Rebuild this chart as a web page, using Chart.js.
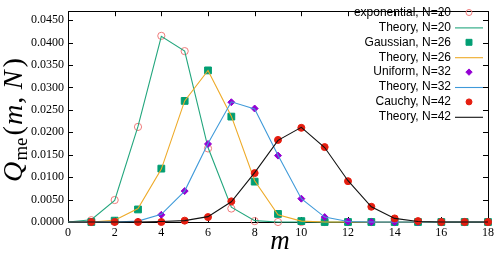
<!DOCTYPE html>
<html>
<head>
<meta charset="utf-8">
<script src="https://cdn.jsdelivr.net/npm/chart.js@4.4.1/dist/chart.umd.min.js"></script>
<style>
html, body { margin: 0; padding: 0; background: #fff; }
</style>
</head>
<body>
<canvas id="myChart" width="498" height="254"></canvas>
<script>
// m values for the simulated points and for the theory curves
var mPoints = [1, 2, 3, 4, 5, 6, 7, 8, 9, 10, 11, 12, 13, 14, 15, 16, 17, 18];
var mTheory = [0, 1, 2, 3, 4, 5, 6, 7, 8, 9, 10, 11, 12, 13, 14, 15, 16, 17, 18];

var expPoints   = [0.0004, 0.0049, 0.0212, 0.0415, 0.0381, 0.0164, 0.0030, 0.0002, 0, 0, 0, 0, 0, 0, 0, 0, 0, 0];
var expTheory   = [0, 0.0005, 0.0048, 0.0213, 0.0414, 0.0381, 0.0166, 0.0033, 0.0003, 0, 0, 0, 0, 0, 0, 0, 0, 0, 0];
var gaussPoints = [0, 0.0003, 0.0028, 0.0119, 0.0270, 0.0338, 0.0235, 0.0090, 0.0018, 0.0002, 0, 0, 0, 0, 0, 0, 0, 0];
var gaussTheory = [0, 0, 0.0004, 0.0030, 0.0118, 0.0270, 0.0338, 0.0236, 0.0092, 0.0016, 0.0002, 0, 0, 0, 0, 0, 0, 0, 0];
var unifPoints  = [0, 0, 0.0001, 0.0016, 0.0069, 0.0174, 0.0267, 0.0253, 0.0148, 0.0052, 0.0011, 0.0001, 0, 0, 0, 0, 0, 0];
var unifTheory  = [0, 0, 0, 0.0002, 0.0017, 0.0069, 0.0175, 0.0268, 0.0252, 0.0149, 0.0052, 0.0011, 0.0001, 0, 0, 0, 0, 0, 0];
var cauchyPoints = [0, 0, 0, 0, 0.0003, 0.0011, 0.0046, 0.0109, 0.0183, 0.0210, 0.0167, 0.0091, 0.0034, 0.0008, 0.0002, 0, 0, 0];
var cauchyTheory = [0, 0, 0, 0, 0.0001, 0.0003, 0.0012, 0.0045, 0.0110, 0.0182, 0.0211, 0.0166, 0.0092, 0.0034, 0.0008, 0.0001, 0, 0, 0];

var yTickStep = 0.005;
var xTickStep = 2;

function pts(xs, ys) {
    return xs.map(function (x, i) { return { x: x, y: ys[i] }; });
}

function markerSet(label, data, style, color, fill, radius, keyRadius, order) {
    return {
        label: label, data: data, showLine: false,
        pointStyle: style, pointRadius: radius, pointHoverRadius: radius,
        borderColor: color, backgroundColor: fill, pointBorderWidth: 1,
        borderWidth: 1, clip: false, order: order, keyRadius: keyRadius
    };
}

function lineSet(label, data, color, order) {
    return {
        label: label, data: data, showLine: true,
        borderColor: color, backgroundColor: color, borderWidth: 1.1,
        pointRadius: 0, tension: 0, clip: false, order: order
    };
}

var serif = '"Liberation Serif", "DejaVu Serif", serif';

// frame with inward ticks on all four sides
var framePlugin = {
    id: 'frame',
    beforeDatasetsDraw: function (chart) {
        var ctx = chart.ctx, a = chart.chartArea;
        var xs = chart.scales.x, ys = chart.scales.y;
        ctx.save();
        ctx.strokeStyle = '#000';
        ctx.lineWidth = 1;
        ctx.beginPath();
        ctx.rect(Math.round(a.left) + 0.5, Math.round(a.top) + 0.5,
            Math.round(a.right - a.left), Math.round(a.bottom - a.top));
        xs.ticks.forEach(function (t) {
            var px = Math.round(xs.getPixelForValue(t.value)) + 0.5;
            ctx.moveTo(px, a.bottom); ctx.lineTo(px, a.bottom - 5);
            ctx.moveTo(px, a.top); ctx.lineTo(px, a.top + 5);
        });
        ys.ticks.forEach(function (t) {
            var py = Math.round(ys.getPixelForValue(t.value)) + 0.5;
            ctx.moveTo(a.left, py); ctx.lineTo(a.left + 5, py);
            ctx.moveTo(a.right, py); ctx.lineTo(a.right - 5, py);
        });
        ctx.stroke();
        ctx.restore();
    }
};

// legend inside the plot, text right-aligned with the sample to its right
var legendPlugin = {
    id: 'innerLegend',
    afterDatasetsDraw: function (chart) {
        var ctx = chart.ctx;
        ctx.save();
        ctx.font = '12px "Liberation Sans", Arial, sans-serif';
        ctx.textAlign = 'right';
        ctx.textBaseline = 'middle';
        chart.data.datasets.forEach(function (ds, i) {
            var y = 12.5 + i * 14.9;
            ctx.fillStyle = '#000';
            ctx.fillText(ds.label, 451, y);
            if (ds.showLine) {
                ctx.strokeStyle = ds.borderColor;
                ctx.lineWidth = ds.borderWidth;
                ctx.beginPath();
                ctx.moveTo(455, y + 0.5); ctx.lineTo(483, y + 0.5);
                ctx.stroke();
            } else {
                ctx.strokeStyle = ds.borderColor;
                ctx.fillStyle = ds.backgroundColor;
                ctx.lineWidth = 1;
                Chart.helpers.drawPoint(ctx, {
                    pointStyle: ds.pointStyle, radius: ds.keyRadius,
                    rotation: 0, borderWidth: 1
                }, 469, y);
            }
        });
        ctx.restore();
    }
};

// axis titles: Q_me(m, N) and m
var titlePlugin = {
    id: 'axisTitles',
    afterDraw: function (chart) {
        var ctx = chart.ctx;
        ctx.save();
        ctx.fillStyle = '#000';
        ctx.textBaseline = 'alphabetic';
        ctx.textAlign = 'left';
        var big = 27, small = 18;
        var parts = [
            { t: 'Q', f: 'italic ' + big + 'px ' + serif, dy: 0, g: 1 },
            { t: 'me', f: small + 'px ' + serif, dy: 5, g: 2 },
            { t: '(', f: big + 'px ' + serif, dy: 0, g: 1 },
            { t: 'm', f: 'italic ' + big + 'px ' + serif, dy: 0, g: 1 },
            { t: ',', f: big + 'px ' + serif, dy: 0, g: 7 },
            { t: 'N', f: 'italic ' + big + 'px ' + serif, dy: 0, g: 3 },
            { t: ')', f: big + 'px ' + serif, dy: 0, g: 0 }
        ];
        var total = 0;
        parts.forEach(function (p) { ctx.font = p.f; p.w = ctx.measureText(p.t).width; total += p.w + p.g; });
        var sx = 124 / total;
        ctx.translate(22, 120);
        ctx.rotate(-Math.PI / 2);
        ctx.scale(sx, 1);
        var x = -total / 2;
        parts.forEach(function (p) {
            ctx.font = p.f;
            ctx.fillText(p.t, x, p.dy);
            x += p.w + p.g;
        });
        ctx.restore();

        ctx.save();
        ctx.fillStyle = '#000';
        ctx.font = 'italic 27px ' + serif;
        ctx.textAlign = 'center';
        ctx.textBaseline = 'alphabetic';
        ctx.fillText('m', 280, 249);
        ctx.restore();
    }
};

var ctx = document.getElementById('myChart').getContext('2d');
var myChart = new Chart(ctx, {
    type: 'scatter',
    data: {
        datasets: [
            markerSet('exponential, N=20', pts(mPoints, expPoints), 'circle', '#ef7a7a', 'rgba(255,255,255,0)', 3.6, 3, 8),
            lineSet('Theory, N=20', pts(mTheory, expTheory), '#22a67d', 7),
            markerSet('Gaussian, N=26', pts(mPoints, gaussPoints), 'rect', '#009e73', '#009e73', 4.8, 4.2, 6),
            lineSet('Theory, N=26', pts(mTheory, gaussTheory), '#eeaa28', 5),
            markerSet('Uniform, N=32', pts(mPoints, unifPoints), 'rectRot', '#9400d3', '#9400d3', 3.5, 3.2, 4),
            lineSet('Theory, N=32', pts(mTheory, unifTheory), '#3f9ad9', 3),
            markerSet('Cauchy, N=42', pts(mPoints, cauchyPoints), 'circle', '#e51e10', '#e51e10', 3.5, 3, 2),
            lineSet('Theory, N=42', pts(mTheory, cauchyTheory), '#111111', 1)
        ]
    },
    options: {
        responsive: false,
        animation: false,
        devicePixelRatio: 1,
        layout: { padding: { top: 3, right: 9, left: 0, bottom: 0 } },
        plugins: {
            legend: { display: false },
            tooltip: { enabled: false }
        },
        scales: {
            x: {
                type: 'linear', min: 0, max: 18,
                grid: { display: false, drawTicks: false },
                border: { display: false },
                ticks: {
                    stepSize: xTickStep, padding: 4, color: '#000',
                    font: { family: serif, size: 12 }
                },
                afterFit: function (s) { s.height = 32; }
            },
            y: {
                type: 'linear', min: 0, max: 0.047,
                grid: { display: false, drawTicks: false },
                border: { display: false },
                ticks: {
                    stepSize: yTickStep, includeBounds: false, padding: 4, color: '#000',
                    font: { family: serif, size: 12 },
                    callback: function (v) { return v.toFixed(4); }
                },
                afterFit: function (s) { s.width = 68; }
            }
        }
    },
    plugins: [framePlugin, legendPlugin, titlePlugin]
});
</script>
</body>
</html>
